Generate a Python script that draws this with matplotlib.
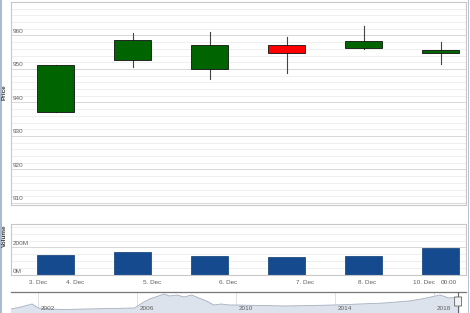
import numpy as np
import matplotlib
matplotlib.use("Agg")
import matplotlib.pyplot as plt
from matplotlib.patches import Rectangle, FancyBboxPatch

plt.rcParams["font.family"] = ["Liberation Sans", "DejaVu Sans"]

# candles, one per trading day (index on an ordinal axis)
days = [0, 1, 2, 3, 4, 5]
opens = [937.3, 952.8, 950.1, 957.3, 956.4, 954.9]
closes = [951.3, 958.8, 957.3, 954.9, 958.5, 955.8]
highs = [951.3, 960.6, 960.9, 959.7, 962.7, 958.2]
lows = [937.3, 950.7, 946.9, 948.7, 956.1, 951.6]
volumes = [145, 167, 138, 131, 135, 196]  # millions

xtick_pos = [-0.23, 0.25, 1.25, 2.24, 3.24, 4.05, 4.79, 5.11]
xtick_lab = ["3. Dec", "4. Dec", "5. Dec", "6. Dec", "7. Dec", "8. Dec", "10. Dec", "00:00"]

price_ticks = [910, 920, 930, 940, 950, 960]
vol_ticks = [0, 200]
vol_labels = ["0M", "200M"]

# navigator overview series (year, relative level)
nav_years = [2000.9, 2001.3, 2001.75, 2002.0, 2002.5, 2003, 2004, 2005, 2005.9, 2006.2,
             2006.5, 2007.1, 2007.3, 2007.6, 2007.9, 2008.2, 2008.5, 2008.8, 2009.1,
             2009.4, 2009.7, 2010, 2011, 2012, 2013, 2014, 2015, 2016, 2017, 2017.5,
             2018.25, 2018.6, 2019.0]
nav_vals = [4, 6, 9, 5, 4, 3.5, 4, 4.5, 5, 10, 14, 19, 17, 18, 16, 18, 15, 12, 8,
            9, 8, 8, 7.5, 7, 7.5, 8, 9, 10, 12, 14, 18, 15, 16]
nav_ticks = [2002, 2006, 2010, 2014, 2018]

W, H = 470, 313
fig = plt.figure(figsize=(W / 100, H / 100), dpi=100)
fig.patch.set_facecolor("white")

def box(l, r, t, b):
    return [l / W, 1 - b / H, (r - l) / W, (b - t) / H]

lab = dict(fontsize=4.6, color="#606060")
grid_major = "#d8d8d8"
grid_minor = "#efefef"

axp = fig.add_axes(box(11, 466, 2, 205))
axv = fig.add_axes(box(11, 466, 224, 275))
axn = fig.add_axes(box(11, 466, 292, 313))

# ---- price pane
axp.set_xlim(-0.58, 5.33)
axp.set_ylim(909.4, 970)
for y in np.arange(910, 971, 2):
    axp.axhline(y, color=grid_major if y % 10 == 0 else grid_minor, lw=0.7, zorder=0)
w = 0.24
for d, o, c, h, l in zip(days, opens, closes, highs, lows):
    col = "#006400" if c >= o else "#ff0000"
    axp.plot([d, d], [l, h], color="#444444", lw=0.8, zorder=1)
    axp.add_patch(Rectangle((d - w, min(o, c)), 2 * w, abs(c - o),
                            facecolor=col, edgecolor="#111111", lw=0.6, zorder=2))
for t in price_ticks:
    axp.text(0.003, t + 0.5, str(t), transform=axp.get_yaxis_transform(),
             ha="left", va="bottom", **lab)
axp.set_xticks([])
axp.set_yticks([])
fig.text(4 / W, 1 - 92 / H, "Price", rotation=90, ha="center", va="center",
         fontsize=4.6, color="#3a3a3a", fontweight="bold")

# ---- volume pane
axv.set_xlim(-0.58, 5.33)
axv.set_ylim(0, 370)
for y in np.arange(0, 371, 50):
    axv.axhline(y, color=grid_major if y % 200 == 0 else grid_minor, lw=0.7, zorder=0)
axv.bar(days, volumes, width=2 * w, color="#154a8f", edgecolor="#0c3a73", lw=0.5, zorder=2)
for t, s in zip(vol_ticks, vol_labels):
    axv.text(0.003, t + 8, s, transform=axv.get_yaxis_transform(),
             ha="left", va="bottom", **lab)
axv.set_yticks([])
axv.set_xticks(xtick_pos)
axv.set_xticklabels(xtick_lab, **lab)
axv.tick_params(axis="x", length=0, pad=3.5)
fig.text(4 / W, 1 - 236 / H, "Volume", rotation=90, ha="center", va="center",
         fontsize=4.6, color="#3a3a3a", fontweight="bold")

for ax in (axp, axv):
    ax.set_facecolor("white")
    for s in ax.spines.values():
        s.set_color("#c8c8c8")
        s.set_linewidth(0.8)

# ---- navigator
axn.set_xlim(2000.9, 2019.3)
axn.set_ylim(0, 21)
axn.fill_between(nav_years, nav_vals, color="#dde3ec", zorder=1)
axn.plot(nav_years, nav_vals, color="#a8b2c2", lw=0.6, zorder=2)
for t in nav_ticks:
    axn.axvline(t, color="#e2e2e2", lw=0.7, zorder=0)
    axn.text(t + 0.12, 4, str(t), ha="left", va="center", **lab)
axn.set_xticks([])
axn.set_yticks([])
for k in ("left", "right", "bottom"):
    axn.spines[k].set_visible(False)
axn.spines["top"].set_color("#777777")
axn.spines["top"].set_linewidth(0.9)
axn.axvline(2018.98, color="#666666", lw=0.8, zorder=3)
axn.add_patch(FancyBboxPatch((2018.98 - 0.12, 7), 0.24, 9,
                             boxstyle="round,pad=0.02", facecolor="#f2f2f2",
                             edgecolor="#666666", lw=0.6, zorder=4))

# screenshot frame strips
fig.add_artist(Rectangle((0, 0), 1.5 / W, 1, transform=fig.transFigure,
                         facecolor="#a9bccf", edgecolor="none"))
fig.add_artist(Rectangle((467.5 / W, 0), 1.5 / W, 1, transform=fig.transFigure,
                         facecolor="#b4c4d6", edgecolor="none"))

fig.savefig("out.png", dpi=100)
